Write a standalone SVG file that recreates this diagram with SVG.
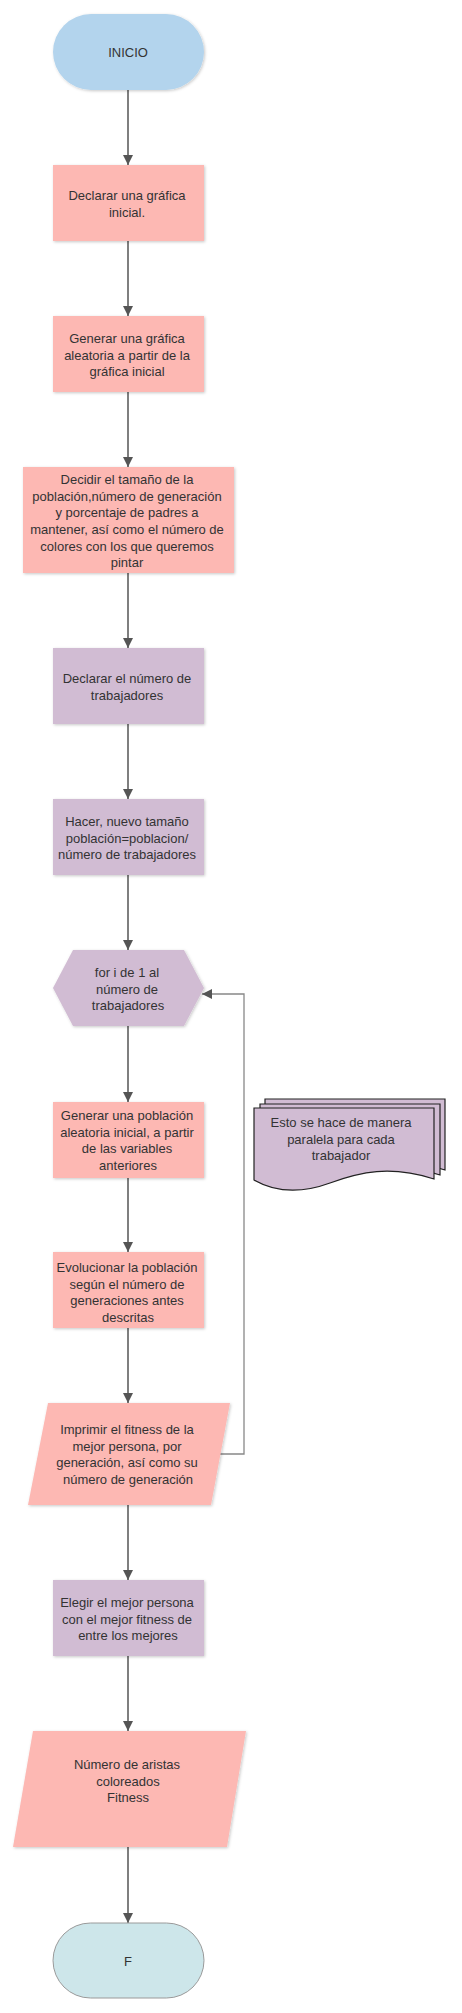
<svg xmlns="http://www.w3.org/2000/svg" width="462" height="2013" viewBox="0 0 462 2013">
<defs>
<style>
text{font-family:"Liberation Sans",Arial,sans-serif;font-size:13px;fill:#333;text-anchor:middle}
.blue{fill:#b3d4ed}
.pink{fill:#fdb8b3}
.purple{fill:#d1bcd3}
.end{fill:#cde6ea;stroke:#9a9a9a;stroke-width:1}
.doc{fill:#d1bcd3;stroke:#222;stroke-width:1.2}
.flow{fill:none;stroke:#555;stroke-width:1.5}
.loop{fill:none;stroke:#888;stroke-width:1.3}
</style>
<filter id="sh" x="-10%" y="-10%" width="130%" height="130%">
<feDropShadow dx="1" dy="1" stdDeviation="1.5" flood-color="#000" flood-opacity="0.22"/>
</filter>
<marker id="ah" viewBox="0 0 10 10" refX="10" refY="5" markerWidth="10" markerHeight="10" markerUnits="userSpaceOnUse" orient="auto">
<path d="M0,0 L10,5 L0,10 Z" fill="#555"/>
</marker>
<path id="docshape" d="M0,0 H180 V71 C136,57 106,64 76,75 C46,86 21,84 0,72 Z"/>
</defs>

<g id="connectors">
<line class="flow" x1="128" y1="90" x2="128" y2="165" marker-end="url(#ah)"/>
<line class="flow" x1="128" y1="241" x2="128" y2="316" marker-end="url(#ah)"/>
<line class="flow" x1="128" y1="392" x2="128" y2="467" marker-end="url(#ah)"/>
<line class="flow" x1="128" y1="573" x2="128" y2="648" marker-end="url(#ah)"/>
<line class="flow" x1="128" y1="724" x2="128" y2="799" marker-end="url(#ah)"/>
<line class="flow" x1="128" y1="875" x2="128" y2="950" marker-end="url(#ah)"/>
<line class="flow" x1="128" y1="1026" x2="128" y2="1102" marker-end="url(#ah)"/>
<line class="flow" x1="128" y1="1178" x2="128" y2="1252" marker-end="url(#ah)"/>
<line class="flow" x1="128" y1="1328" x2="128" y2="1403" marker-end="url(#ah)"/>
<line class="flow" x1="128" y1="1505" x2="128" y2="1580" marker-end="url(#ah)"/>
<line class="flow" x1="128" y1="1656" x2="128" y2="1731" marker-end="url(#ah)"/>
<line class="flow" x1="128" y1="1847" x2="128" y2="1923" marker-end="url(#ah)"/>
<polyline class="loop" points="220,1454 244,1454 244,994 202,994" marker-end="url(#ah)"/>
</g>

<g id="inicio">
<rect class="blue" x="53" y="14" width="151" height="76" rx="38" ry="38" filter="url(#sh)"/>
<text x="128" y="57">INICIO</text>
</g>

<g id="declarar-grafica">
<rect class="pink" x="53" y="165" width="151" height="76" filter="url(#sh)"/>
<text x="127" y="200">Declarar una gráfica</text>
<text x="127" y="217">inicial.</text>
</g>

<g id="generar-grafica">
<rect class="pink" x="53" y="316" width="151" height="76" filter="url(#sh)"/>
<text x="127" y="343">Generar una gráfica</text>
<text x="127" y="359.5">aleatoria a partir de la</text>
<text x="127" y="376">gráfica inicial</text>
</g>

<g id="decidir">
<rect class="pink" x="23" y="467" width="211" height="106" filter="url(#sh)"/>
<text x="127" y="484">Decidir el tamaño de la</text>
<text x="127" y="500.7">población,número de generación</text>
<text x="127" y="517.3">y porcentaje de padres a</text>
<text x="127" y="534">mantener, así como el número de</text>
<text x="127" y="550.7">colores con los que queremos</text>
<text x="127" y="567.3">pintar</text>
</g>

<g id="declarar-trabajadores">
<rect class="purple" x="53" y="648" width="151" height="76" filter="url(#sh)"/>
<text x="127" y="683">Declarar el número de</text>
<text x="127" y="700">trabajadores</text>
</g>

<g id="nuevo-tamano">
<rect class="purple" x="53" y="799" width="151" height="76" filter="url(#sh)"/>
<text x="127" y="826">Hacer, nuevo tamaño</text>
<text x="127" y="842.6">población=poblacion/</text>
<text x="127" y="859.2">número de trabajadores</text>
</g>

<g id="for-loop">
<polygon class="purple" points="73,950 184,950 204,988 184,1026 73,1026 53,988" filter="url(#sh)"/>
<text x="127" y="977">for i de 1 al</text>
<text x="127" y="993.6">número de</text>
<text x="128" y="1010.2">trabajadores</text>
</g>

<g id="generar-poblacion">
<rect class="pink" x="53" y="1102" width="151" height="76" filter="url(#sh)"/>
<text x="127" y="1120">Generar una población</text>
<text x="127" y="1136.6">aleatoria inicial, a partir</text>
<text x="127" y="1153.2">de las variables</text>
<text x="128" y="1169.8">anteriores</text>
</g>

<g id="nota-paralela">
<use href="#docshape" class="doc" x="265" y="1099"/>
<use href="#docshape" class="doc" x="260" y="1104"/>
<use href="#docshape" class="doc" x="254" y="1108"/>
<text x="341" y="1127">Esto se hace de manera</text>
<text x="341" y="1143.6">paralela para cada</text>
<text x="341" y="1160.2">trabajador</text>
</g>

<g id="evolucionar">
<rect class="pink" x="53" y="1252" width="151" height="76" filter="url(#sh)"/>
<text x="127" y="1272">Evolucionar la población</text>
<text x="127" y="1288.6">según el número de</text>
<text x="127" y="1305.2">generaciones antes</text>
<text x="128" y="1321.8">descritas</text>
</g>

<g id="imprimir">
<polygon class="pink" points="48,1403 230,1403 211,1505 28,1505" filter="url(#sh)"/>
<text x="127" y="1434">Imprimir el fitness de la</text>
<text x="127" y="1450.6">mejor persona, por</text>
<text x="127" y="1467.2">generación, así como su</text>
<text x="128" y="1483.8">número de generación</text>
</g>

<g id="elegir">
<rect class="purple" x="53" y="1580" width="151" height="76" filter="url(#sh)"/>
<text x="127" y="1607">Elegir el mejor persona</text>
<text x="127" y="1623.6">con el mejor fitness de</text>
<text x="128" y="1640.2">entre los mejores</text>
</g>

<g id="resultado">
<polygon class="pink" points="33,1731 246,1731 227,1847 13,1847" filter="url(#sh)"/>
<text x="127" y="1769">Número de aristas</text>
<text x="128" y="1785.6">coloreados</text>
<text x="128" y="1802.2">Fitness</text>
</g>

<g id="fin">
<rect class="end" x="53" y="1923" width="151" height="75" rx="37.5" ry="37.5"/>
<text x="128" y="1966">F</text>
</g>
</svg>
